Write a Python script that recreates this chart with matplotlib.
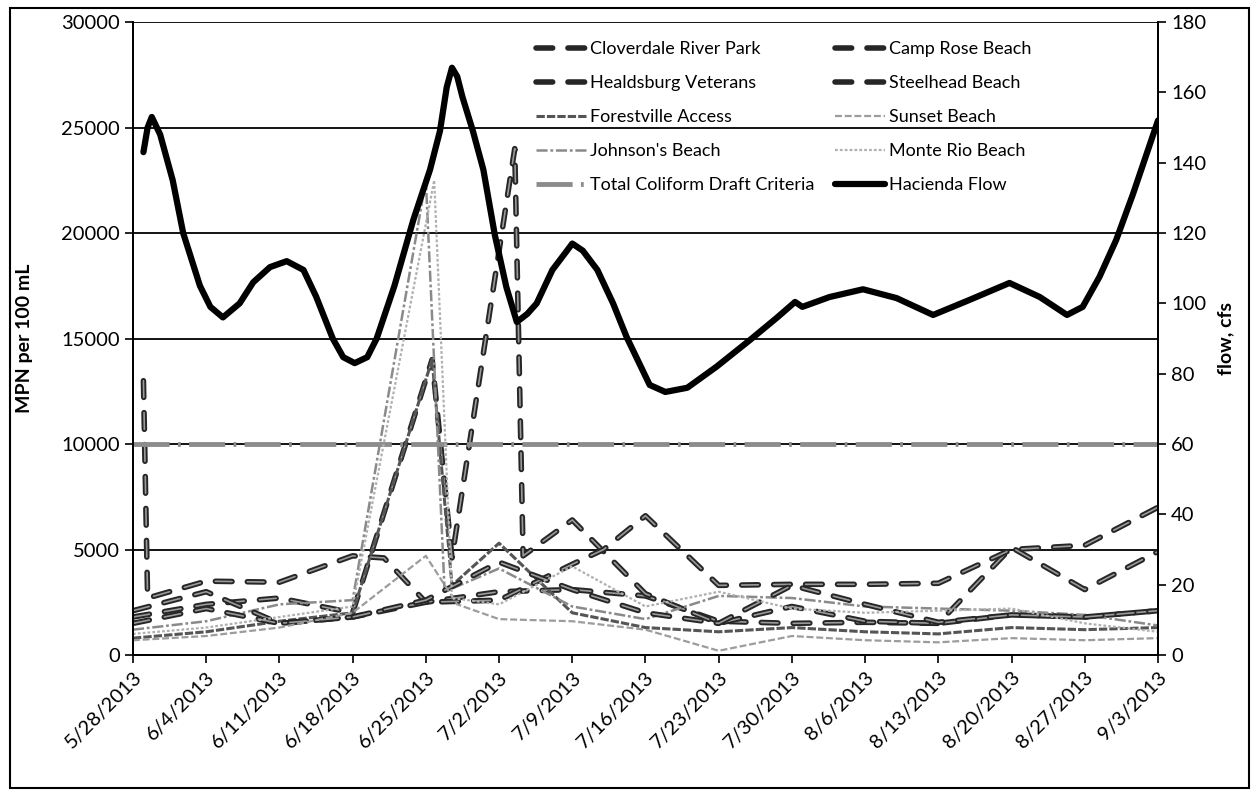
import matplotlib
matplotlib.use("Agg")
import matplotlib.pyplot as plt
from matplotlib.patches import Rectangle

plt.rcParams['font.family'] = ['Lato', 'DejaVu Sans']
plt.rcParams['lines.scale_dashes'] = False

# x values are days after 5/28/2013
tick_days = [0, 7, 14, 21, 28, 35, 42, 49, 56, 63, 70, 77, 84, 91, 98]
tick_labels = ['5/28/2013', '6/4/2013', '6/11/2013', '6/18/2013', '6/25/2013',
               '7/2/2013', '7/9/2013', '7/16/2013', '7/23/2013', '7/30/2013',
               '8/6/2013', '8/13/2013', '8/20/2013', '8/27/2013', '9/3/2013']

clov_days = [1, 1.4, 7, 14, 21, 24, 28, 35, 42, 49, 56, 63, 70, 77, 84, 91, 98]
clov_vals = [13000, 2700, 3500, 3450, 4700, 4600, 2500, 3000, 3100, 2800, 1600, 1500, 1550, 1500, 5100, 3100, 4900]

heal_days = [0, 7, 14, 21, 28.6, 30.5, 36.5, 37.3, 42, 49, 56, 63, 70, 77, 84, 91, 98]
heal_vals = [1800, 2400, 2700, 2000, 14000, 4600, 24000, 4700, 6400, 2900, 1500, 2300, 1600, 1500, 1900, 1800, 2100]

camp_days = [0, 7, 14, 21, 28, 35, 42, 45, 49, 56, 63, 70, 77, 84, 91, 98]
camp_vals = [2100, 3000, 1500, 1800, 2500, 2600, 4300, 5000, 6600, 3300, 3350, 3350, 3400, 5000, 5200, 7000]

steel_days = [0, 7, 14, 21, 28, 35, 42, 49, 56, 63, 70, 77, 84, 91, 98]
steel_vals = [1500, 2200, 1500, 1800, 2600, 4400, 3100, 2000, 1500, 3300, 2400, 1550, 1900, 1800, 2100]

forest_days = [0, 7, 14, 21, 28.6, 30.5, 35, 42, 49, 56, 63, 70, 77, 84, 91, 98]
forest_vals = [800, 1100, 1600, 2000, 14000, 3300, 5300, 2000, 1300, 1100, 1300, 1100, 1000, 1300, 1200, 1300]

sunset_days = [0, 7, 14, 21, 28, 31, 35, 42, 49, 56, 63, 70, 77, 84, 91, 98]
sunset_vals = [700, 900, 1300, 2000, 4700, 2400, 1700, 1600, 1200, 200, 900, 700, 600, 800, 700, 800]

john_days = [0, 7, 14, 21, 28, 29.8, 35, 42, 49, 56, 63, 70, 77, 84, 91, 98]
john_vals = [1200, 1600, 2400, 2600, 22500, 3000, 4100, 2300, 1700, 2800, 2700, 2300, 2200, 2100, 1900, 1400]

monte_days = [0, 7, 14, 21, 28.8, 30.5, 35, 42, 49, 56, 63, 70, 77, 84, 91, 98]
monte_vals = [1000, 1300, 1800, 2300, 22500, 2700, 2400, 4200, 2300, 3000, 2200, 2000, 2100, 2200, 1500, 1100]

criteria_days = [0, 98]
criteria_vals = [10000, 10000]

flow_days = [1, 1.4, 1.8, 2.6, 3.8, 4.8, 6.4, 7.4, 8.6, 10.2, 11.5, 13.1, 14.7, 16.3, 17.5,
             19.1, 20.1, 21.2, 22.4, 23.3, 25, 26.8, 28.4, 29.35, 30, 30.5, 31, 31.5, 32.5,
             33.5, 34.6, 35.7, 36.7, 37.7, 38.6, 40.1, 41.5, 42, 43, 44.4, 45.9, 47.2, 49.4,
             50.9, 53, 55.8, 59, 61.6, 63.3, 64, 66.6, 69.8, 73, 76.5, 80, 83.8, 86.7, 89.3,
             90.8, 92.4, 94, 95.6, 98]
flow_vals = [143, 150, 153, 148, 135, 120, 105, 99, 96, 100, 106, 110.3, 112, 109.5, 102,
             90, 84.7, 83, 84.7, 90, 105, 123.7, 138, 149, 161.5, 167, 164.5, 158.7, 149,
             138, 119.4, 104.6, 94.7, 97, 100, 109.5, 115, 117, 115, 109.5, 100, 90.4, 76.8,
             74.8, 76, 82, 89.6, 96, 100.4, 99, 101.8, 104, 101.5, 96.7, 101, 105.8, 101.8, 96.7,
             99, 107.5, 118, 131, 152]

fig = plt.figure(figsize=(12.58, 7.98), dpi=100)
ax = fig.add_axes([0.1057, 0.1792, 0.8148, 0.7932])
ax2 = ax.twinx()

heavy = dict(lw=4, color='#262626', dashes=(12, 11), dash_capstyle='round')
inner = dict(lw=1.2, color='#9a9a9a', dashes=(12, 11), dash_capstyle='round')

handles = []
h, = ax.plot(clov_days, clov_vals, label='Cloverdale River Park', **heavy)
ax.plot(clov_days, clov_vals, **inner)
handles.append(h)
h, = ax.plot(heal_days, heal_vals, label='Healdsburg Veterans', **heavy)
ax.plot(heal_days, heal_vals, **inner)
handles.append(h)
h, = ax.plot(forest_days, forest_vals, label='Forestville Access', lw=2.2, color='#555555',
             dashes=(6, 1.5))
handles.append(h)
h, = ax.plot(john_days, john_vals, label="Johnson's Beach", lw=1.8, color='#8a8a8a',
             dashes=(8, 2, 2, 2))
handles.append(h)
h, = ax.plot(criteria_days, criteria_vals, label='Total Coliform Draft Criteria', lw=3.5,
             color='#8c8c8c', dashes=(26, 6, 2, 6))
handles.append(h)
h, = ax.plot(camp_days, camp_vals, label='Camp Rose Beach', **heavy)
ax.plot(camp_days, camp_vals, **inner)
handles.append(h)
h, = ax.plot(steel_days, steel_vals, label='Steelhead Beach', **heavy)
ax.plot(steel_days, steel_vals, **inner)
handles.append(h)
h, = ax.plot(sunset_days, sunset_vals, label='Sunset Beach', lw=1.6, color='#9c9c9c',
             dashes=(5, 2))
handles.append(h)
h, = ax.plot(monte_days, monte_vals, label='Monte Rio Beach', lw=1.6, color='#b0b0b0',
             dashes=(2, 1.5))
handles.append(h)
h, = ax2.plot(flow_days, flow_vals, label='Hacienda Flow', lw=4.5, color='black',
              solid_joinstyle='round', solid_capstyle='round')
handles.append(h)

ax.set_xlim(0, 98)
ax.set_ylim(0, 30000)
ax.set_yticks(range(0, 30001, 5000))
ax.set_xticks(tick_days)
ax.set_xticklabels(tick_labels, rotation=45, ha='right', rotation_mode='anchor')
ax.yaxis.grid(True, color='black', lw=1.3)
ax.set_axisbelow(True)
ax.tick_params(axis='both', labelsize=14.5, length=6, width=1.2, color='black')
ax.tick_params(axis='x', pad=4)
ax.set_ylabel('MPN per 100 mL', fontsize=14, fontweight='bold', labelpad=20)

ax2.set_ylim(0, 180)
ax2.set_yticks(range(0, 181, 20))
ax2.tick_params(axis='y', labelsize=14.5, length=6, width=1.2)
ax2.set_ylabel('flow, cfs', fontsize=14, fontweight='bold', labelpad=8)

for a in (ax, ax2):
    for s in a.spines.values():
        s.set_color('black')
        s.set_linewidth(1.3)
    a.spines['top'].set_visible(False)

ax2.legend(handles=handles, ncol=2, loc='upper left', bbox_to_anchor=(0.375, 1.0),
           frameon=False, fontsize=13, handlelength=2.8, labelspacing=1.0,
           columnspacing=1.1, handletextpad=0.2, borderaxespad=0.65)

fig.patches.append(Rectangle((0.008, 0.012), 0.985, 0.978, transform=fig.transFigure,
                             fill=False, edgecolor='black', lw=1.5))

fig.savefig('out.png', dpi=100)
